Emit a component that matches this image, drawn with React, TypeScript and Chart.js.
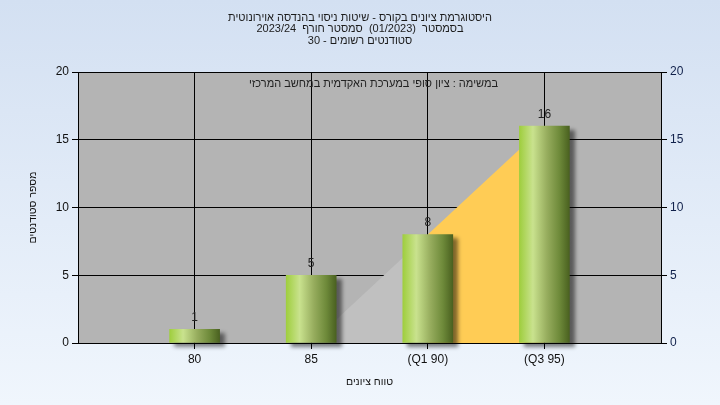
import React, { useEffect, useRef } from 'react';
import { Chart, registerables } from 'chart.js';

Chart.register(...registerables);

const titleLines = [
  'היסטוגרמת ציונים בקורס - שיטות ניסוי בהנדסה אוירונוטית',
  'בסמסטר  (01/2023)  סמסטר חורף  2023/24',
  'סטודנטים רשומים - 30',
];
const innerNote = 'במשימה : ציון סופי במערכת האקדמית במחשב המרכזי';
const xAxisTitle = 'טווח ציונים';
const yAxisTitle = 'מספר סטודנטים';

const grades = [80, 85, 90, 95];
const gradeLabels = ['80', '85', '(Q1 90)', '(Q3 95)'];
const studentCounts = [1, 5, 8, 16];
const belowQ1Band: (number | null)[] = [null, 0, 8, null];
const q1ToQ3Band: (number | null)[] = [null, null, 8, 16];
const yMin = 0;
const yMax = 20;
const yStep = 5;
const xMin = 75;
const xMax = 100;

const FONT = 'Liberation Sans, Arial, sans-serif';
const font = { family: FONT, size: 12 };
const axisTitleFont = { family: FONT, size: 10.5 };

function bandPoints(band: (number | null)[]) {
  const pts: { x: number; y: number }[] = [];
  band.forEach((v, i) => {
    if (v !== null) pts.push({ x: grades[i], y: v });
  });
  return pts;
}

const decorPlugin = {
  id: 'decor',
  beforeDraw(chart: any) {
    const { ctx, width, height, chartArea: a } = chart;
    ctx.save();
    const g = ctx.createLinearGradient(0, 0, 0, height);
    g.addColorStop(0, '#d3e0f2');
    g.addColorStop(1, '#f0f6fd');
    ctx.fillStyle = g;
    ctx.fillRect(0, 0, width, height);
    ctx.fillStyle = '#b4b4b4';
    ctx.fillRect(a.left, a.top, a.right - a.left, a.bottom - a.top);
    ctx.restore();
  },
  beforeDatasetDraw(chart: any, args: any) {
    if (args.index === 0) {
      const ctx = chart.ctx;
      ctx.save();
      ctx.shadowColor = 'rgba(0,0,0,0.5)';
      ctx.shadowBlur = 4;
      ctx.shadowOffsetX = 5;
      ctx.shadowOffsetY = 4;
    }
  },
  afterDatasetDraw(chart: any, args: any) {
    if (args.index === 0) chart.ctx.restore();
  },
  afterDatasetsDraw(chart: any) {
    const ctx = chart.ctx;
    const meta = chart.getDatasetMeta(0);
    ctx.save();
    ctx.font = `12px ${FONT}`;
    ctx.fillStyle = '#222';
    ctx.textAlign = 'center';
    ctx.textBaseline = 'middle';
    meta.data.forEach((bar: any, i: number) => {
      ctx.fillText(String(studentCounts[i]), bar.x, bar.y - 12);
    });
    ctx.restore();
  },
  afterDraw(chart: any) {
    const { ctx, width, chartArea: a } = chart;
    ctx.save();
    ctx.direction = 'rtl';
    ctx.font = `11px ${FONT}`;
    ctx.fillStyle = '#1b1b1b';
    ctx.textAlign = 'center';
    ctx.textBaseline = 'middle';
    titleLines.forEach((line, i) => {
      ctx.fillText(line, width / 2, 17.5 + i * 11.7);
    });
    ctx.fillStyle = '#222';
    ctx.fillText(innerNote, (a.left + a.right) / 2 + 4, a.top + 12);
    ctx.restore();
  },
};

export default function App() {
  const ref = useRef<HTMLCanvasElement | null>(null);

  useEffect(() => {
    if (!ref.current) return;
    const chart = new Chart(ref.current, {
      type: 'bar',
      data: {
        datasets: [
          {
            type: 'bar',
            data: grades.map((g, i) => ({ x: g, y: studentCounts[i] })),
            barThickness: 50,
            order: 0,
            clip: false as any,
            borderWidth: 0,
            backgroundColor: (c: any) => {
              const chart = c.chart;
              const xs = chart.scales?.x;
              if (!xs || c.dataIndex == null) return '#9fb565';
              const cx = xs.getPixelForValue(grades[c.dataIndex]);
              if (!Number.isFinite(cx)) return '#9fb565';
              const g = chart.ctx.createLinearGradient(cx - 25, 0, cx + 25, 0);
              g.addColorStop(0, '#9fce3e');
              g.addColorStop(0.27, '#c9e28e');
              g.addColorStop(0.55, '#97ad5e');
              g.addColorStop(0.8, '#6e8a3a');
              g.addColorStop(1, '#4a6120');
              return g;
            },
          } as any,
          {
            type: 'line',
            data: bandPoints(belowQ1Band),
            fill: 'origin',
            backgroundColor: '#c0c0c0',
            borderWidth: 0,
            pointRadius: 0,
            order: 2,
          } as any,
          {
            type: 'line',
            data: bandPoints(q1ToQ3Band),
            fill: 'origin',
            backgroundColor: '#ffcc55',
            borderWidth: 0,
            pointRadius: 0,
            order: 1,
          } as any,
        ],
      },
      options: {
        responsive: false,
        animation: false,
        events: [],
        plugins: {
          legend: { display: false },
          tooltip: { enabled: false },
          title: { display: false },
        },
        layout: { padding: { top: 72, left: 0, right: 0, bottom: 0 } },
        scales: {
          x: {
            type: 'linear',
            min: xMin,
            max: xMax,
            offset: false,
            afterBuildTicks: (s: any) => {
              s.ticks = grades.map((v) => ({ value: v }));
            },
            afterFit: (s: any) => {
              s.height = 62;
            },
            ticks: {
              callback: (v: any) => {
                const i = grades.indexOf(Number(v));
                return i >= 0 ? gradeLabels[i] : '';
              },
              color: '#111',
              font,
              padding: 3,
              autoSkip: false,
              maxRotation: 0,
            },
            grid: { color: '#000', lineWidth: 1, tickLength: 6, drawTicks: true, offset: false },
            border: { color: '#000', width: 1 },
            title: {
              display: true,
              text: xAxisTitle,
              color: '#111',
              font: axisTitleFont,
              padding: { top: 4, bottom: 17 },
            },
          },
          y: {
            position: 'left',
            min: yMin,
            max: yMax,
            afterFit: (s: any) => {
              s.width = 78;
            },
            ticks: { stepSize: yStep, color: '#111', font, padding: 3 },
            grid: { color: '#000', lineWidth: 1, tickLength: 6 },
            border: { color: '#000', width: 1 },
            title: {
              display: true,
              text: yAxisTitle,
              color: '#111',
              font: axisTitleFont,
              padding: { top: 27, bottom: 4 },
            },
          },
          y2: {
            position: 'right',
            min: yMin,
            max: yMax,
            afterFit: (s: any) => {
              s.width = 59;
            },
            ticks: { stepSize: yStep, color: '#10204a', font, padding: 3 },
            grid: { color: '#000', lineWidth: 1, tickLength: 6, drawOnChartArea: false },
            border: { color: '#000', width: 1 },
          },
        },
      } as any,
      plugins: [decorPlugin],
    });
    return () => chart.destroy();
  }, []);

  return (
    <div style={{ position: 'fixed', left: 0, top: 0, width: 720, height: 405 }}>
      <canvas ref={ref} width={720} height={405} dir="rtl" />
    </div>
  );
}
